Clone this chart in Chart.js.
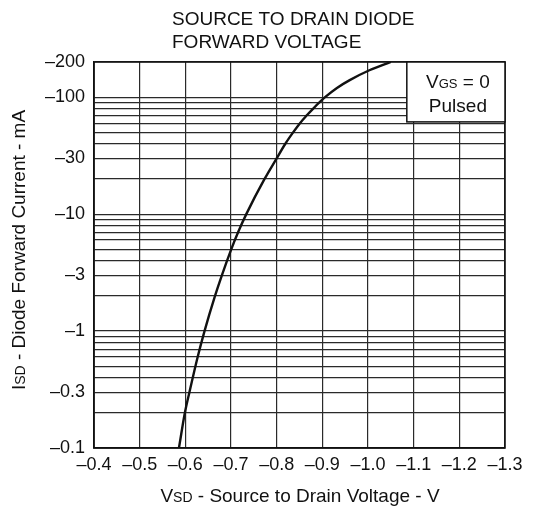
<!DOCTYPE html>
<html>
<head>
<meta charset="utf-8">
<script src="https://cdn.jsdelivr.net/npm/chart.js@4.4.1/dist/chart.umd.min.js"></script>
<style>
  html, body { margin: 0; padding: 0; background: #fff; }
  #wrap { width: 533px; height: 512px; }
</style>
</head>
<body>
<div id="wrap"><canvas id="diodeChart" width="533" height="512"></canvas></div>
<script>
// Diodna kriva: napon izvor-odvod (V) i struja (mA, apsolutna vrednost)
const vsdVolts = [-0.586, -0.599, -0.609, -0.627, -0.642, -0.665, -0.680, -0.7005, -0.7155, -0.7335, -0.7735, -0.800, -0.819, -0.836, -0.851, -0.866, -0.880, -0.906, -0.932, -0.960, -1.003, -1.050];
const isdMilliAmps = [0.1, 0.2, 0.3, 0.6, 1, 2, 3, 5, 7, 10, 20, 30, 40, 50, 60, 70, 80, 100, 120, 140, 170, 200];

const xTickValues = [-0.4, -0.5, -0.6, -0.7, -0.8, -0.9, -1.0, -1.1, -1.2, -1.3];
const xTickLabels = ['–0.4', '–0.5', '–0.6', '–0.7', '–0.8', '–0.9', '–1.0', '–1.1', '–1.2', '–1.3'];
const yTickValues = [0.1, 0.3, 1, 3, 10, 30, 100, 200];
const yTickLabels = ['–0.1', '–0.3', '–1', '–3', '–10', '–30', '–100', '–200'];
const yDecades = [0.1, 1, 10, 100];
const yMultiples = [1, 2, 3, 4, 5, 6, 7, 8, 9];

const titleLines = ['SOURCE TO DRAIN DIODE', 'FORWARD VOLTAGE'];
const FONT = '"Liberation Sans", Arial, Helvetica, sans-serif';

// sve linije log mreze (1..9 po dekadi) do 200
const yGrid = [];
yDecades.forEach(d => yMultiples.forEach(m => {
    const v = Number((d * m).toPrecision(3));
    if (v <= 200) yGrid.push(v);
}));

const points = vsdVolts.map((v, i) => ({ x: v, y: isdMilliAmps[i] }));

/**
 * Crta tekst sa indeksom, npr. V + SD
 */
function drawParts(ctx, parts, x, y, align) {
    let total = 0;
    parts.forEach(p => {
        ctx.font = p.size + 'px ' + FONT;
        total += ctx.measureText(p.text).width;
    });
    let cx = align === 'center' ? x - total / 2 : x;
    ctx.textAlign = 'left';
    ctx.textBaseline = 'alphabetic';
    parts.forEach(p => {
        ctx.font = p.size + 'px ' + FONT;
        ctx.fillText(p.text, cx, y + (p.dy || 0));
        cx += ctx.measureText(p.text).width;
    });
}

const decorPlugin = {
    id: 'decor',
    afterDatasetsDraw(chart) {
        const ctx = chart.ctx;
        const area = chart.chartArea;
        const xs = chart.scales.x;
        const ys = chart.scales.y;
        ctx.save();

        // okvir grafikona
        ctx.strokeStyle = '#111';
        ctx.lineWidth = 1.5;
        ctx.strokeRect(area.left, area.top, area.right - area.left, area.bottom - area.top);

        // legenda VGS = 0 / Pulsed
        const bx = xs.getPixelForValue(-1.085);
        const by = ys.getPixelForValue(61.5);
        ctx.fillStyle = '#fff';
        ctx.fillRect(bx, area.top, area.right - bx, by - area.top);
        ctx.strokeRect(bx, area.top, area.right - bx, by - area.top);
        ctx.fillStyle = '#111';
        const mid = (bx + area.right) / 2 + 2;
        drawParts(ctx, [{ text: 'V', size: 19 }, { text: 'GS', size: 13 }, { text: ' = 0', size: 19 }], mid, area.top + 26, 'center');
        drawParts(ctx, [{ text: 'Pulsed', size: 19 }], mid, area.top + 50, 'center');

        // naslov
        ctx.fillStyle = '#111';
        ctx.font = '19px ' + FONT;
        ctx.textAlign = 'left';
        ctx.textBaseline = 'alphabetic';
        ctx.fillText(titleLines[0], 172, 25);
        ctx.fillText(titleLines[1], 172, 48);

        // naslov x ose
        drawParts(ctx, [{ text: 'V', size: 19 }, { text: 'SD', size: 14 }, { text: ' - Source to Drain Voltage - V', size: 19 }], 300, 502, 'center');

        // naslov y ose
        ctx.translate(25, 250);
        ctx.rotate(-Math.PI / 2);
        drawParts(ctx, [{ text: 'I', size: 19 }, { text: 'SD', size: 14 }, { text: ' - Diode Forward Current - mA', size: 19 }], 0, 0, 'center');
        ctx.restore();
    }
};

new Chart(document.getElementById('diodeChart'), {
    type: 'scatter',
    data: {
        datasets: [{
            data: points,
            showLine: true,
            borderColor: '#111',
            borderWidth: 2.4,
            pointRadius: 0,
            cubicInterpolationMode: 'monotone',
            fill: false
        }]
    },
    options: {
        responsive: false,
        animation: false,
        layout: { padding: { left: 0, top: 62, right: 28, bottom: 0 } },
        plugins: {
            legend: { display: false },
            tooltip: { enabled: false },
            title: { display: false }
        },
        scales: {
            x: {
                type: 'linear',
                min: -1.3,
                max: -0.4,
                reverse: true,
                afterFit(scale) { scale.height = 64; },
                afterBuildTicks(scale) {
                    scale.ticks = xTickValues.map(v => ({ value: v }));
                },
                ticks: {
                    autoSkip: false,
                    maxRotation: 0,
                    padding: 6,
                    color: '#111',
                    font: { family: FONT, size: 18 },
                    callback(value) {
                        const i = xTickValues.findIndex(t => Math.abs(t - value) < 1e-6);
                        return i >= 0 ? xTickLabels[i] : '';
                    }
                },
                grid: { color: '#2a2a2a', lineWidth: 1.2, drawTicks: false },
                border: { color: '#111', width: 1.5 }
            },
            y: {
                type: 'logarithmic',
                min: 0.1,
                max: 200,
                afterFit(scale) { scale.width = 94; },
                afterBuildTicks(scale) {
                    scale.ticks = yGrid.map(v => ({ value: v }));
                },
                ticks: {
                    autoSkip: false,
                    padding: 9,
                    color: '#111',
                    font: { family: FONT, size: 18 },
                    callback(value) {
                        const i = yTickValues.findIndex(t => Math.abs(t - value) / t < 1e-6);
                        return i >= 0 ? yTickLabels[i] : '';
                    }
                },
                grid: { color: '#2a2a2a', lineWidth: 1.2, drawTicks: false },
                border: { color: '#111', width: 1.5 }
            }
        }
    },
    plugins: [decorPlugin]
});
</script>
</body>
</html>
